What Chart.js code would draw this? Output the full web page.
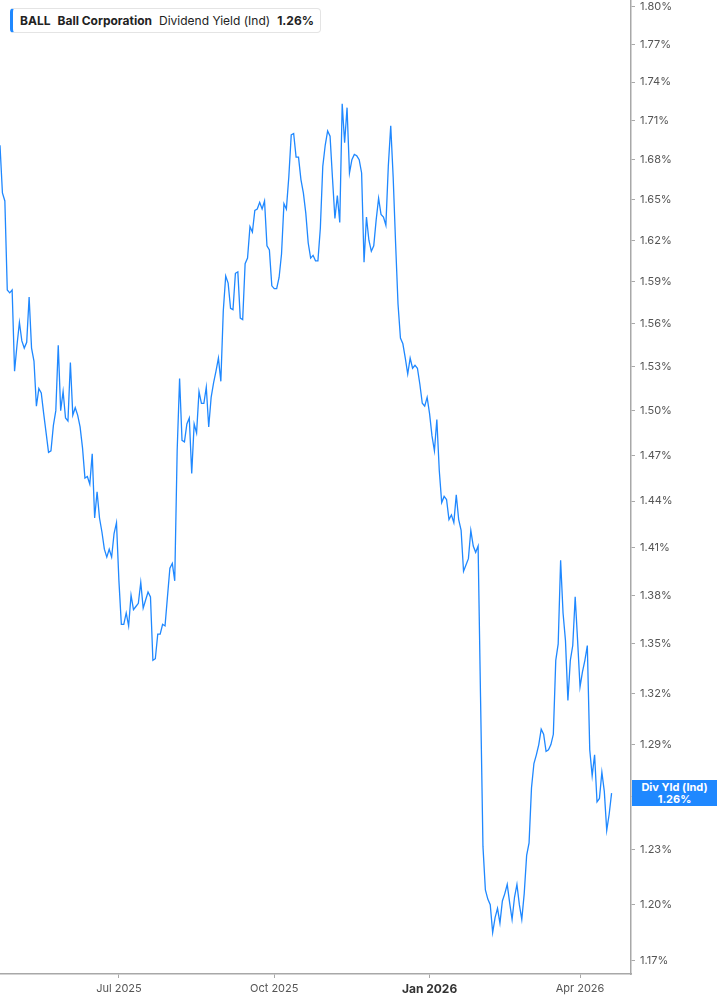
<!DOCTYPE html>
<html>
<head>
<meta charset="utf-8">
<script src="https://cdn.jsdelivr.net/npm/chart.js@4"></script>
<style>
    html, body { margin: 0; padding: 0; background: #fff; }
    #wrap { position: relative; width: 717px; height: 1005px; font-family: Inter, Roboto, sans-serif; }
    #legend {
        position: absolute; left: 10px; top: 8px; height: 23px;
        padding: 0 6px 0 7px;
        border: 1px solid #e4e4e4; border-left: 3px solid #1f88ff; border-radius: 4px;
        display: flex; align-items: center; gap: 7px;
        font-size: 12px; color: #222; white-space: nowrap; background: #fff;
    }
    #legend b { font-weight: 700; }
    #lastTag {
        position: absolute; left: 632px; width: 85px; height: 26px;
        background: #1f88ff; color: #fff; font-size: 11px; font-weight: 700;
        text-align: center; line-height: 12px; padding-top: 1px; box-sizing: border-box;
    }
</style>
</head>
<body>
<div id="wrap">
    <canvas id="yieldChart" width="717" height="1005"></canvas>
    <div id="legend"><b>BALL</b><b>Ball Corporation</b><span>Dividend Yield (Ind)</span><b>1.26%</b></div>
    <div id="lastTag"><div>Div Yld (Ind)</div><div>1.26%</div></div>
</div>
<script>
// daily dividend yield (%), one value per trading day, late Apr 2025 -> mid Apr 2026
const yields = [
    1.691, 1.655, 1.649, 1.584, 1.582, 1.584, 1.527, 1.545, 1.561, 1.548,
    1.543, 1.547, 1.579, 1.543, 1.534, 1.503, 1.515, 1.512, 1.498, 1.485,
    1.472, 1.473, 1.490, 1.500, 1.545, 1.500, 1.513, 1.495, 1.493, 1.533,
    1.497, 1.502, 1.497, 1.489, 1.475, 1.455, 1.456, 1.451, 1.471, 1.429,
    1.446, 1.429, 1.420, 1.409, 1.404, 1.409, 1.404, 1.419, 1.426, 1.389,
    1.362, 1.362, 1.369, 1.361, 1.380, 1.371, 1.373, 1.375, 1.388, 1.372,
    1.377, 1.382, 1.379, 1.340, 1.341, 1.356, 1.356, 1.362, 1.361, 1.379,
    1.397, 1.400, 1.389, 1.473, 1.522, 1.480, 1.479, 1.491, 1.495, 1.458,
    1.491, 1.485, 1.513, 1.505, 1.505, 1.516, 1.489, 1.509, 1.519, 1.527,
    1.536, 1.520, 1.569, 1.594, 1.589, 1.571, 1.570, 1.596, 1.597, 1.564,
    1.563, 1.603, 1.607, 1.630, 1.626, 1.642, 1.643, 1.648, 1.643, 1.649,
    1.616, 1.613, 1.587, 1.585, 1.585, 1.593, 1.610, 1.647, 1.643, 1.667,
    1.699, 1.700, 1.682, 1.682, 1.665, 1.655, 1.640, 1.618, 1.607, 1.609,
    1.605, 1.605, 1.629, 1.675, 1.691, 1.702, 1.698, 1.666, 1.636, 1.653,
    1.633, 1.723, 1.693, 1.720, 1.670, 1.680, 1.684, 1.683, 1.680, 1.670,
    1.604, 1.637, 1.620, 1.612, 1.616, 1.635, 1.651, 1.639, 1.637, 1.631,
    1.675, 1.706, 1.667, 1.618, 1.574, 1.550, 1.546, 1.536, 1.525, 1.536,
    1.529, 1.531, 1.529, 1.518, 1.505, 1.503, 1.509, 1.498, 1.483, 1.473,
    1.494, 1.460, 1.439, 1.443, 1.441, 1.428, 1.431, 1.426, 1.444, 1.428,
    1.421, 1.395, 1.399, 1.403, 1.421, 1.411, 1.407, 1.411, 1.318, 1.232,
    1.208, 1.203, 1.200, 1.185, 1.193, 1.198, 1.190, 1.202, 1.206, 1.211,
    1.201, 1.192, 1.204, 1.211, 1.200, 1.192, 1.206, 1.227, 1.234, 1.265,
    1.279, 1.284, 1.290, 1.299, 1.296, 1.286, 1.287, 1.290, 1.296, 1.340,
    1.350, 1.402, 1.369, 1.352, 1.316, 1.340, 1.349, 1.379, 1.352, 1.324,
    1.333, 1.340, 1.349, 1.287, 1.272, 1.284, 1.257, 1.259, 1.274, 1.263,
    1.241, 1.250, 1.262
];

// y axis ticks (log scale)
const yTicks = [1.17, 1.20, 1.23, 1.26, 1.29, 1.32, 1.35, 1.38, 1.41, 1.44, 1.47,
                1.50, 1.53, 1.56, 1.59, 1.62, 1.65, 1.68, 1.71, 1.74, 1.77, 1.80];

// x axis: trading day index of the first session of each quarter
const xTickIndex = [49, 113, 177, 239];
const xTickLabels = ['Jul 2025', 'Oct 2025', 'Jan 2026', 'Apr 2026'];
const boldLabel = 'Jan 2026';

const lineColor = '#1f88ff';
const tickColor = '#555';
const axisColor = '#a8a8a8';

document.addEventListener('DOMContentLoaded', () => {
    const tag = document.getElementById('lastTag');

    // keep the last-value tag pinned to the last point
    const tagPlugin = {
        id: 'lastTag',
        afterRender(chart) {
            const y = chart.scales.y.getPixelForValue(yields[yields.length - 1]);
            tag.style.top = Math.round(y - 13) + 'px';
        }
    };

    new Chart(document.getElementById('yieldChart'), {
        type: 'line',
        data: {
            datasets: [{
                label: 'Dividend Yield (Ind)',
                data: yields.map((v, i) => ({ x: i, y: v })),
                borderColor: lineColor,
                borderWidth: 1.3,
                pointRadius: 0,
                tension: 0,
                fill: false
            }]
        },
        options: {
            responsive: false,
            animation: false,
            layout: { padding: 0 },
            plugins: { legend: { display: false }, tooltip: { enabled: false } },
            scales: {
                x: {
                    type: 'linear',
                    min: 0,
                    max: 260,
                    afterBuildTicks: (scale) => {
                        scale.ticks = xTickIndex.map(v => ({ value: v }));
                    },
                    afterFit: (scale) => {
                        scale.height = 31;
                        scale.paddingLeft = 0;
                        scale.paddingRight = 0;
                    },
                    grid: { drawOnChartArea: false, drawTicks: true, tickLength: 4, color: axisColor },
                    border: { display: true, color: axisColor, width: 1.5 },
                    ticks: {
                        autoSkip: false,
                        maxRotation: 0,
                        padding: 4,
                        callback: (v) => {
                            const k = xTickIndex.indexOf(v);
                            return k >= 0 ? xTickLabels[k] : '';
                        },
                        color: (ctx) => xTickLabels[ctx.index] === boldLabel ? '#333' : tickColor,
                        font: (ctx) => ({
                            family: 'Inter, Roboto, sans-serif',
                            size: xTickLabels[ctx.index] === boldLabel ? 12 : 11,
                            weight: xTickLabels[ctx.index] === boldLabel ? 'bold' : 'normal'
                        })
                    }
                },
                y: {
                    type: 'logarithmic',
                    position: 'right',
                    min: 1.163,
                    max: 1.8057,
                    afterBuildTicks: (scale) => {
                        scale.ticks = yTicks.map(v => ({ value: v }));
                    },
                    afterFit: (scale) => {
                        scale.width = 86;
                        // no extra room for the edge labels, the plot fills to the top
                        scale.paddingTop = 0;
                        scale.paddingBottom = 0;
                    },
                    grid: { drawOnChartArea: false, drawTicks: true, tickLength: 4, color: axisColor },
                    border: { display: true, color: axisColor, width: 1.5 },
                    ticks: {
                        autoSkip: false,
                        padding: 5,
                        color: tickColor,
                        font: { family: 'Inter, Roboto, sans-serif', size: 11 },
                        callback: (v) => Number(v).toFixed(2) + '%'
                    }
                }
            }
        },
        plugins: [tagPlugin]
    });
});
</script>
</body>
</html>
